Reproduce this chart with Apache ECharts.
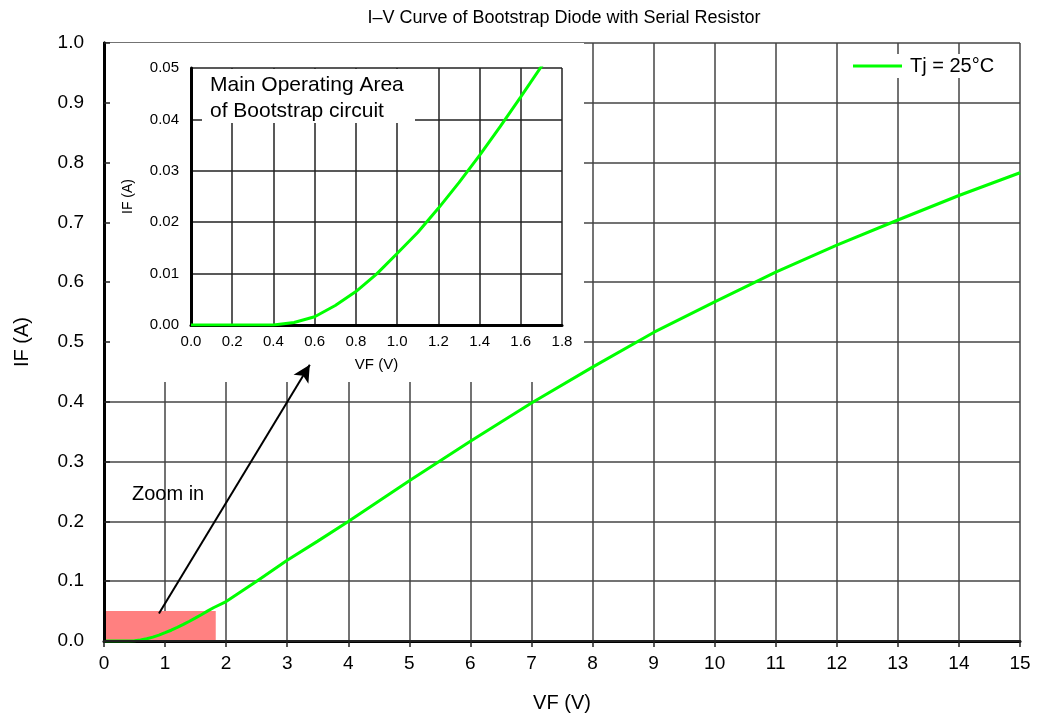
<!DOCTYPE html>
<html>
<head>
<meta charset="utf-8">
<script src="https://cdn.jsdelivr.net/npm/echarts@6/dist/echarts.min.js"></script>
<style>
  html, body { margin: 0; padding: 0; background: #fff; }
  #chart { width: 1039px; height: 719px; }
</style>
</head>
<body>
<div id="chart"></div>
<script>
// forward voltage (V) and forward current (A)
const vfValues = [0, 0.2, 0.4, 0.5, 0.6, 0.7, 0.8, 0.9, 1.0, 1.1, 1.2, 1.3, 1.4, 1.5, 1.6, 1.7, 1.8,
  2, 2.5, 3, 3.5, 4, 5, 6, 7, 8, 9, 10, 11, 12, 13, 14, 15]
const ifValues = [0, 0, 0, 0.0005, 0.0016, 0.0038, 0.0065, 0.0099, 0.0139, 0.018, 0.0227, 0.0277, 0.033, 0.0386, 0.0444, 0.0503, 0.056,
  0.066, 0.1, 0.135, 0.167, 0.2, 0.268, 0.334, 0.398, 0.458, 0.516, 0.567, 0.617, 0.662, 0.704, 0.745, 0.783]

// zoomed region and the arrow pointing to the inset (data coords of main plot)
const zoomBoxVF = [0, 1.83]
const zoomBoxIF = [0, 0.05]
const arrowFrom = [0.9, 0.046]
const arrowTo = [3.37, 0.462]

const seriesName = 'Tj = 25°C'
const FONT = "'Liberation Sans', Arial, sans-serif"

const curve = vfValues.map((v, i) => [v, ifValues[i]])

const chart = echarts.init(document.getElementById('chart'))

const mainGrid = { left: 104, top: 43, width: 916, height: 598 }
const insetGrid = { left: 191, top: 68, width: 371, height: 257 }

const option = {
  animation: false,
  textStyle: { fontFamily: FONT, color: '#000' },
  title: {
    text: 'I–V Curve of Bootstrap Diode with Serial Resistor',
    left: 559,
    textAlign: 'center',
    top: 4,
    textStyle: { fontFamily: FONT, fontSize: 18, fontWeight: 'normal', color: '#000' },
  },
  legend: {
    data: [{ name: seriesName, icon: 'rect' }],
    left: 843,
    top: 54,
    padding: [2, 10],
    backgroundColor: '#fff',
    itemWidth: 49,
    itemHeight: 3,
    z: 8,
    textStyle: { fontFamily: FONT, fontSize: 20, color: '#000', padding: [0, 0, 0, 3] },
  },
  grid: [
    { ...mainGrid, show: false },
    { ...insetGrid, show: false },
  ],
  xAxis: [
    {
      type: 'value', gridIndex: 0, min: 0, max: 15, interval: 1, z: 1,
      name: 'VF (V)', nameLocation: 'middle', nameGap: 52,
      nameTextStyle: { fontFamily: FONT, fontSize: 20, color: '#000' },
      axisLine: { lineStyle: { color: '#000', width: 3 } },
      axisTick: { show: false },
      axisLabel: { fontFamily: FONT, fontSize: 19, color: '#000', margin: 13 },
      splitLine: { show: true, lineStyle: { color: '#444', width: 1.5 } },
    },
    {
      // top edge with inward ticks, stays visible over the inset backdrop
      type: 'value', gridIndex: 0, position: 'top', min: 0, max: 15, interval: 1, z: 4,
      axisLine: { lineStyle: { color: '#222', width: 2 } },
      axisTick: { show: true, inside: true, length: 6, lineStyle: { color: '#222', width: 1.5 } },
      axisLabel: { show: false },
      splitLine: { show: false },
    },
    {
      type: 'value', gridIndex: 1, min: 0, max: 1.8, interval: 0.2, z: 4,
      name: 'VF (V)', nameLocation: 'middle', nameGap: 32,
      nameTextStyle: { fontFamily: FONT, fontSize: 15, color: '#000' },
      axisLine: { lineStyle: { color: '#000', width: 3 } },
      axisTick: { show: false },
      axisLabel: { fontFamily: FONT, fontSize: 15, color: '#000', margin: 9, formatter: v => v.toFixed(1) },
      splitLine: { show: true, lineStyle: { color: '#222', width: 1.5 } },
    },
  ],
  yAxis: [
    {
      type: 'value', gridIndex: 0, min: 0, max: 1, interval: 0.1, z: 1,
      name: 'IF (A)', nameLocation: 'middle', nameGap: 72,
      nameTextStyle: { fontFamily: FONT, fontSize: 20, color: '#000' },
      axisLine: { show: true, lineStyle: { color: '#000', width: 3 } },
      axisTick: { show: false },
      axisLabel: { fontFamily: FONT, fontSize: 19, color: '#000', margin: 20, formatter: v => v.toFixed(1) },
      splitLine: { show: true, lineStyle: { color: '#444', width: 1.5 } },
    },
    {
      type: 'value', gridIndex: 0, position: 'left', min: 0, max: 1, interval: 0.1, z: 4,
      axisLine: { show: true, lineStyle: { color: '#000', width: 3 } },
      axisTick: { show: true, inside: true, length: 6, lineStyle: { color: '#222', width: 1.5 } },
      axisLabel: { show: false },
      splitLine: { show: false },
    },
    {
      type: 'value', gridIndex: 1, min: 0, max: 0.05, interval: 0.01, z: 4,
      name: 'IF (A)', nameLocation: 'middle', nameGap: 56,
      nameTextStyle: { fontFamily: FONT, fontSize: 14, color: '#000' },
      axisLine: { show: true, lineStyle: { color: '#000', width: 3 } },
      axisTick: { show: false },
      axisLabel: { fontFamily: FONT, fontSize: 15, color: '#000', margin: 12, formatter: v => v.toFixed(2) },
      splitLine: { show: true, lineStyle: { color: '#222', width: 1.5 } },
    },
  ],
  graphic: [
    {
      // white backdrop of the inset
      type: 'rect', z: 2, silent: true,
      shape: { x: 104, y: 43, width: 480, height: 339 },
      style: { fill: '#fff' },
    },
    {
      type: 'rect', z: 6, silent: true,
      shape: { x: 202, y: 69, width: 213, height: 54 },
      style: { fill: '#fff' },
    },
    {
      type: 'text', z: 7, silent: true, x: 210, y: 72,
      style: {
        text: 'Main Operating Area\nof Bootstrap circuit',
        font: '21px ' + FONT, fill: '#000', lineHeight: 26,
      },
    },
    {
      type: 'text', z: 7, silent: true, x: 132, y: 484,
      style: { text: 'Zoom in', font: '20px ' + FONT, fill: '#000' },
    },
  ],
  series: [
    {
      // zoomed region, under the grid lines
      type: 'line', xAxisIndex: 0, yAxisIndex: 0, data: [], z: 0, silent: true,
      markArea: {
        silent: true,
        itemStyle: { color: '#ff8080', opacity: 1 },
        data: [[{ coord: [zoomBoxVF[0], zoomBoxIF[0]] }, { coord: [zoomBoxVF[1], zoomBoxIF[1]] }]],
      },
    },
    {
      name: seriesName, type: 'line', xAxisIndex: 0, yAxisIndex: 0, z: 3,
      data: curve, symbol: 'none', smooth: false,
      lineStyle: { color: '#00ff00', width: 3 },
      itemStyle: { color: '#00ff00' },
      markLine: {
        silent: true,
        symbol: ['none', 'arrow'],
        symbolSize: [13, 17],
        label: { show: false },
        lineStyle: { color: '#000', width: 2, type: 'solid' },
        data: [[{ coord: arrowFrom }, { coord: arrowTo }]],
      },
    },
    {
      type: 'line', xAxisIndex: 2, yAxisIndex: 2, z: 5, clip: true,
      data: curve, symbol: 'none', smooth: false,
      lineStyle: { color: '#00ff00', width: 3 },
    },
  ],
}

chart.setOption(option)
</script>
</body>
</html>
